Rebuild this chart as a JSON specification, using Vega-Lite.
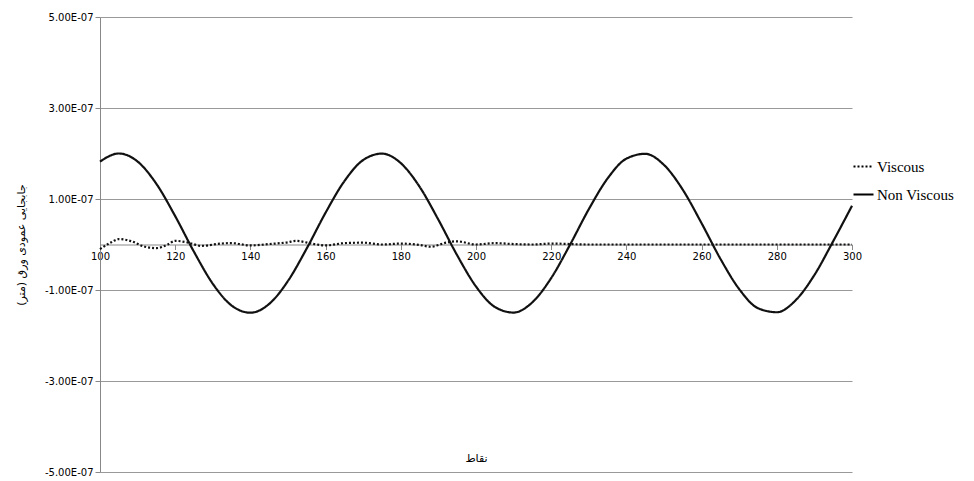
{
  "$schema": "https://vega.github.io/schema/vega-lite/v6.json",
  "width": 752,
  "height": 455,
  "autosize": "none",
  "padding": {"left": 100, "top": 17, "right": 122, "bottom": 9},
  "background": "white",
  "config": {"view": {"stroke": null}, "font": "DejaVu Sans"},
  "data": {
    "values": [
      {"x":100,"y":1.823,"s":"Non Viscous"},{"x":105,"y":2.0,"s":"Non Viscous"},{"x":110,"y":1.823,"s":"Non Viscous"},{"x":115,"y":1.332,"s":"Non Viscous"},{"x":120,"y":0.623,"s":"Non Viscous"},{"x":125,"y":-0.161,"s":"Non Viscous"},{"x":130,"y":-0.863,"s":"Non Viscous"},{"x":135,"y":-1.341,"s":"Non Viscous"},{"x":140,"y":-1.499,"s":"Non Viscous"},{"x":145,"y":-1.306,"s":"Non Viscous"},{"x":150,"y":-0.8,"s":"Non Viscous"},{"x":155,"y":-0.084,"s":"Non Viscous"},{"x":160,"y":0.7,"s":"Non Viscous"},{"x":165,"y":1.393,"s":"Non Viscous"},{"x":170,"y":1.857,"s":"Non Viscous"},{"x":175,"y":1.998,"s":"Non Viscous"},{"x":180,"y":1.788,"s":"Non Viscous"},{"x":185,"y":1.269,"s":"Non Viscous"},{"x":190,"y":0.544,"s":"Non Viscous"},{"x":195,"y":-0.238,"s":"Non Viscous"},{"x":200,"y":-0.923,"s":"Non Viscous"},{"x":205,"y":-1.372,"s":"Non Viscous"},{"x":210,"y":-1.496,"s":"Non Viscous"},{"x":215,"y":-1.269,"s":"Non Viscous"},{"x":220,"y":-0.737,"s":"Non Viscous"},{"x":225,"y":-0.006,"s":"Non Viscous"},{"x":230,"y":0.776,"s":"Non Viscous"},{"x":235,"y":1.452,"s":"Non Viscous"},{"x":240,"y":1.887,"s":"Non Viscous"},{"x":245,"y":1.993,"s":"Non Viscous"},{"x":250,"y":1.748,"s":"Non Viscous"},{"x":255,"y":1.203,"s":"Non Viscous"},{"x":260,"y":0.467,"s":"Non Viscous"},{"x":265,"y":-0.314,"s":"Non Viscous"},{"x":270,"y":-0.98,"s":"Non Viscous"},{"x":275,"y":-1.4,"s":"Non Viscous"},{"x":280,"y":-1.489,"s":"Non Viscous"},{"x":285,"y":-1.227,"s":"Non Viscous"},{"x":290,"y":-0.67,"s":"Non Viscous"},{"x":295,"y":0.073,"s":"Non Viscous"},{"x":300,"y":0.851,"s":"Non Viscous"},
      {"x":100,"y":-0.1,"s":"Viscous"},{"x":103,"y":0.05,"s":"Viscous"},{"x":105,"y":0.12,"s":"Viscous"},{"x":108,"y":0.08,"s":"Viscous"},{"x":112,"y":-0.05,"s":"Viscous"},{"x":115,"y":-0.08,"s":"Viscous"},{"x":118,"y":0.0,"s":"Viscous"},{"x":120,"y":0.08,"s":"Viscous"},{"x":123,"y":0.05,"s":"Viscous"},{"x":127,"y":-0.03,"s":"Viscous"},{"x":132,"y":0.02,"s":"Viscous"},{"x":135,"y":0.03,"s":"Viscous"},{"x":140,"y":-0.02,"s":"Viscous"},{"x":145,"y":0.01,"s":"Viscous"},{"x":150,"y":0.05,"s":"Viscous"},{"x":152,"y":0.08,"s":"Viscous"},{"x":157,"y":0.01,"s":"Viscous"},{"x":160,"y":-0.02,"s":"Viscous"},{"x":165,"y":0.03,"s":"Viscous"},{"x":170,"y":0.04,"s":"Viscous"},{"x":175,"y":0.0,"s":"Viscous"},{"x":180,"y":0.02,"s":"Viscous"},{"x":185,"y":-0.01,"s":"Viscous"},{"x":188,"y":-0.05,"s":"Viscous"},{"x":192,"y":0.04,"s":"Viscous"},{"x":195,"y":0.07,"s":"Viscous"},{"x":200,"y":0.0,"s":"Viscous"},{"x":205,"y":0.03,"s":"Viscous"},{"x":210,"y":0.01,"s":"Viscous"},{"x":215,"y":0.0,"s":"Viscous"},{"x":220,"y":0.02,"s":"Viscous"},{"x":230,"y":0.0,"s":"Viscous"},{"x":260,"y":0.0,"s":"Viscous"},{"x":300,"y":0.0,"s":"Viscous"}
    ]
  },
  "transform": [{"calculate": "datum.y * 1e-7", "as": "val"}],
  "mark": {"type": "line", "interpolate": "monotone", "strokeWidth": 2.2, "color": "#111"},
  "encoding": {
    "x": {
      "field": "x", "type": "quantitative",
      "scale": {"domain": [100, 300], "nice": false},
      "axis": {
        "values": [100,120,140,160,180,200,220,240,260,280,300],
        "offset": -227.5, "grid": false, "domainColor": "#888", "tickColor": "#888",
        "labelFlush": false, "labelBound": false,
        "labelFontSize": 10, "labelColor": "#000", "title": "نقاط", "titleFontSize": 11,
        "titleFontWeight": "normal", "titleY": 208
      }
    },
    "y": {
      "field": "val", "type": "quantitative",
      "scale": {"domain": [-5e-7, 5e-7], "nice": false},
      "axis": {
        "values": [-5e-7, -3e-7, -1e-7, 1e-7, 3e-7, 5e-7],
        "labelExpr": "(datum.value < 0 ? '-' : '') + format(abs(datum.value) / 1e-7, '.2f') + 'E-07'",
        "gridColor": "#999", "domainColor": "#888", "tickColor": "#888",
        "labelFontSize": 10, "labelColor": "#000",
        "title": "جابجایی عمودی ورق (متر)", "titleFontSize": 11, "titleFontWeight": "normal",
        "titlePadding": 18
      }
    },
    "strokeDash": {
      "field": "s", "type": "nominal",
      "scale": {"domain": ["Viscous", "Non Viscous"], "range": [[2, 2], [1, 0]]},
      "legend": {
        "title": null, "orient": "none", "legendX": 752, "legendY": 138,
        "symbolType": "stroke", "symbolSize": 400, "symbolStrokeWidth": 2.2, "symbolStrokeColor": "#000",
        "labelFont": "Liberation Serif", "labelFontSize": 15, "labelColor": "#000", "rowPadding": 8, "labelOffset": 2
      }
    }
  }
}
